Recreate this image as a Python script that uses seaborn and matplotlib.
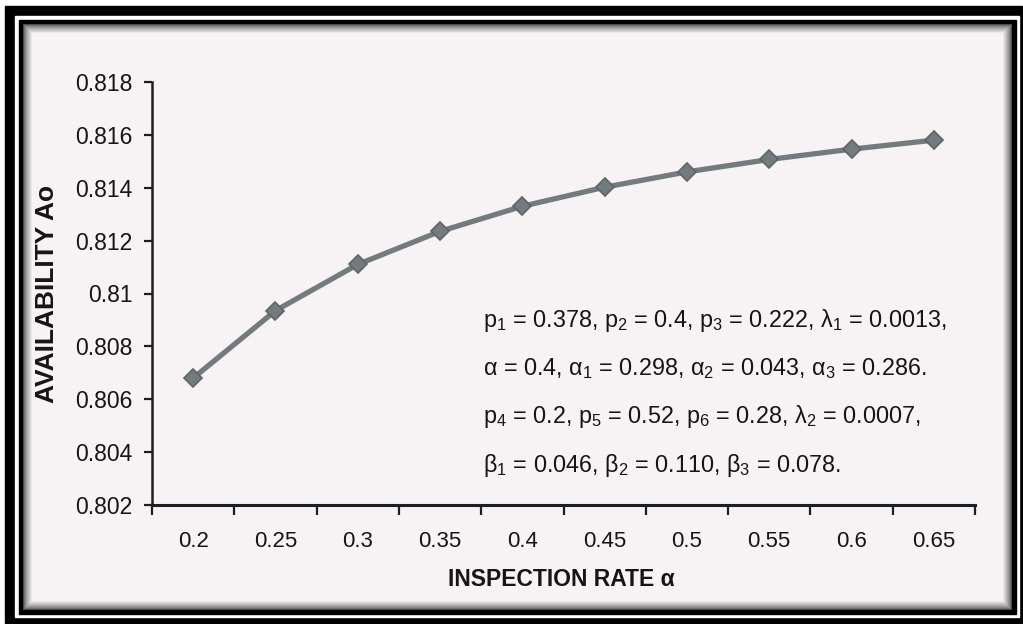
import numpy as np
import pandas as pd
import matplotlib
matplotlib.use("Agg")
import matplotlib.pyplot as plt
import seaborn as sns
from matplotlib.patches import Rectangle

# ---- data ----
rates = ["0.2", "0.25", "0.3", "0.35", "0.4", "0.45", "0.5", "0.55", "0.6", "0.65"]
availability = [0.8068, 0.80935, 0.8111, 0.81235, 0.8133, 0.81402, 0.8146, 0.81507, 0.81546, 0.8158]
y_ticks = [0.802, 0.804, 0.806, 0.808, 0.810, 0.812, 0.814, 0.816, 0.818]
y_tick_labels = ["0.802", "0.804", "0.806", "0.808", "0.81", "0.812", "0.814", "0.816", "0.818"]
param_lines = [
    r"p$_1$ = 0.378, p$_2$ = 0.4, p$_3$ = 0.222, λ$_1$ = 0.0013,",
    r"α = 0.4, α$_1$ = 0.298, α$_2$ = 0.043, α$_3$ = 0.286.",
    r"p$_4$ = 0.2, p$_5$ = 0.52, p$_6$ = 0.28, λ$_2$ = 0.0007,",
    r"β$_1$ = 0.046, β$_2$ = 0.110, β$_3$ = 0.078.",
]
x_label = "INSPECTION RATE α"
y_label = "AVAILABILITY Ao"

sns.set_theme(style="ticks")
plt.rcParams["font.family"] = ["Liberation Sans", "DejaVu Sans"]
plt.rcParams["mathtext.fontset"] = "custom"
plt.rcParams["mathtext.rm"] = "Liberation Sans"
plt.rcParams["mathtext.it"] = "Liberation Sans:italic"
plt.rcParams["mathtext.bf"] = "Liberation Sans:bold"
plt.rcParams["mathtext.default"] = "regular"

W, H = 1023, 624
fig = plt.figure(figsize=(W / 100, H / 100), dpi=100)
fig.patch.set_facecolor("white")

# ---- frame / paper background ----
bg = fig.add_axes([0, 0, 1, 1], zorder=-10)
bg.axis("off")
bg.add_patch(Rectangle((5, 6), 1017, 617, color="black", zorder=1))
bg.add_patch(Rectangle((15, 16), 1004, 601, color="white", zorder=2))
bg.add_patch(Rectangle((19, 20), 997, 594, color="black", zorder=3))
px0, py0, px1, py1 = 23, 24, 1012, 610
pw, ph = px1 - px0, py1 - py0
xx = np.arange(pw)
yy = np.arange(ph)
dx = np.minimum(xx, pw - 1 - xx)[None, :]
dy = np.minimum(yy, ph - 1 - yy)[:, None]
d = np.minimum(dx, dy)
shade = np.clip(d / 9.0, 0, 1) ** 0.7
paper = np.array([0.972, 0.950, 0.954])
dark = np.array([0.30, 0.30, 0.30])
img = dark + (paper - dark) * shade[..., None]
bg.imshow(img, extent=(px0, px1, py1, py0), aspect="auto",
          interpolation="bilinear", zorder=5)
bg.set_xlim(0, W)
bg.set_ylim(H, 0)

# ---- main axes ----
ax = fig.add_axes([152 / W, 1 - 505 / H, (975 - 152) / W, (505 - 82) / H])
ax.patch.set_alpha(0)

df = pd.DataFrame({"rate": rates, "avail": availability})
sns.pointplot(data=df, x="rate", y="avail", order=rates, ax=ax,
              color="#737b7e", markers="D", errorbar=None,
              markersize=9.5, markeredgecolor="#5d6567", markeredgewidth=1.2,
              linewidth=3.8)

ax.set_xlim(-0.5, len(rates) - 0.5)
ax.set_ylim(y_ticks[0], y_ticks[-1])
ax.set_yticks(y_ticks)
ax.set_yticklabels(y_tick_labels)

for s in ["top", "right"]:
    ax.spines[s].set_visible(False)
ax.spines["left"].set_color("#1e1e1e")
ax.spines["left"].set_linewidth(1.8)
ax.spines["bottom"].set_color("#1a1f2a")
ax.spines["bottom"].set_linewidth(2.2)

ax.set_xticks(range(len(rates)))
ax.set_xticklabels(rates)
ax.set_xticks(np.arange(-0.5, len(rates), 1.0), minor=True)
ax.tick_params(axis="x", which="major", length=0, pad=19, labelsize=16, labelcolor="#151515")
ax.tick_params(axis="x", which="minor", length=7, width=1.6, direction="out", color="#1e1e1e")
ax.tick_params(axis="y", which="major", length=6, width=1.6, direction="out", pad=8,
               labelsize=16.5, color="#1e1e1e", labelcolor="#151515")

ax.set_xlabel(x_label, fontsize=16.5, fontweight="bold", color="#151515", va="center")
ax.xaxis.set_label_coords((561 - 152) / 823, (505 - 580) / 423)
ax.set_ylabel(y_label, fontsize=19, fontweight="bold", color="#151515", va="center")
ax.yaxis.set_label_coords((47 - 152) / 823, 0.5)

baselines = [327, 375, 423, 472]
for line, yb in zip(param_lines, baselines):
    fig.text(483 / W, 1 - yb / H, line, fontsize=16.8, color="#151515",
             ha="left", va="baseline")

fig.savefig("out.png", dpi=100, facecolor=fig.get_facecolor())
